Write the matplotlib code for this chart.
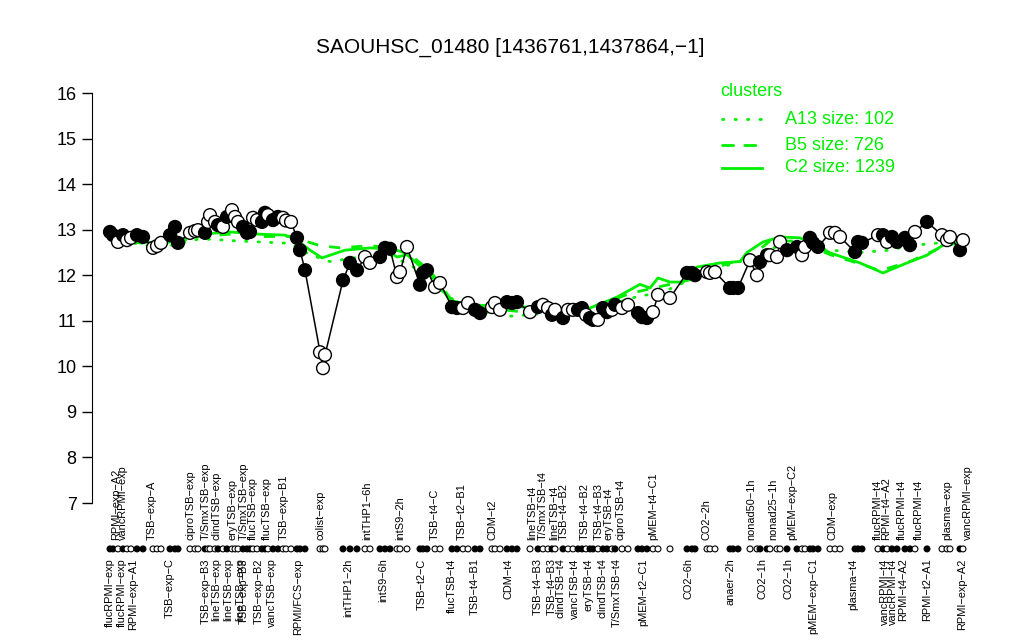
import matplotlib
matplotlib.use("Agg")
import matplotlib.pyplot as plt
from matplotlib.lines import Line2D
import matplotlib.transforms as mtransforms

plt.rcParams['font.family'] = ['Liberation Sans', 'DejaVu Sans']

title = "SAOUHSC_01480 [1436761,1437864,\u22121]"

# sample positions along the x axis, expression values and fill (1 = black, 0 = white)
xpos = [110, 113, 118, 123, 127, 131, 137, 143, 153, 157, 161, 170, 175, 178, 190, 195, 198,
        205, 208, 210, 215, 218, 223, 227, 232, 235, 238, 243, 247, 250, 253, 257, 262, 265,
        268, 273, 278, 283, 286, 291, 297, 300, 305, 320, 323, 325, 343, 350, 357, 365, 370,
        380, 385, 390, 397, 400, 407, 420, 423, 427, 435, 440, 452, 457, 463, 468, 475, 480,
        492, 495, 500, 507, 512, 517, 530, 538, 543, 548, 552, 555, 563, 568, 573, 578, 582,
        586, 590, 593, 598, 603, 607, 612, 615, 622, 628, 638, 642, 647, 653, 658, 670, 687,
        692, 695, 707, 710, 715, 730, 733, 738, 750, 757, 760, 767, 770, 777, 780, 787, 797,
        802, 805, 810, 813, 818, 830, 835, 840, 855, 858, 862, 878, 883, 887, 892, 897, 905,
        910, 915, 927, 942, 947, 950, 960, 963]
values = [12.95, 12.88, 12.73, 12.88, 12.77, 12.82, 12.88, 12.84, 12.60, 12.64, 12.71, 12.88,
          13.06, 12.71, 12.93, 12.97, 12.99, 12.93, 13.17, 13.32, 13.17, 13.10, 13.06, 13.28,
          13.43, 13.28, 13.17, 13.06, 12.93, 12.95, 13.26, 13.21, 13.17, 13.37, 13.32, 13.21,
          13.28, 13.26, 13.20, 13.17, 12.82, 12.55, 12.11, 10.31, 9.96, 10.25, 11.89, 12.27,
          12.11, 12.40, 12.27, 12.40, 12.60, 12.58, 11.96, 12.07, 12.62, 11.79, 12.05, 12.11,
          11.74, 11.83, 11.30, 11.28, 11.28, 11.39, 11.24, 11.17, 11.30, 11.39, 11.24, 11.41,
          11.39, 11.41, 11.19, 11.30, 11.35, 11.28, 11.13, 11.24, 11.06, 11.24, 11.24, 11.24,
          11.28, 11.13, 11.06, 11.02, 11.02, 11.28, 11.19, 11.24, 11.35, 11.28, 11.35, 11.17,
          11.08, 11.06, 11.19, 11.57, 11.50, 12.05, 12.05, 12.00, 12.07, 12.05, 12.07, 11.72,
          11.72, 11.72, 12.33, 12.00, 12.29, 12.44, 12.44, 12.40, 12.73, 12.55, 12.62, 12.44,
          12.62, 12.82, 12.71, 12.62, 12.93, 12.93, 12.84, 12.51, 12.73, 12.71, 12.88, 12.88,
          12.73, 12.84, 12.73, 12.82, 12.66, 12.95, 13.17, 12.88, 12.77, 12.84, 12.55, 12.77]
filled = [1, 1, 0, 1, 0, 0, 1, 1, 0, 0, 0, 1, 1, 1, 0, 0, 0, 1, 0, 0, 0, 1, 0, 1, 0, 0, 0, 1,
          1, 1, 0, 0, 1, 1, 0, 1, 1, 0, 0, 0, 1, 1, 1, 0, 0, 0, 1, 1, 1, 0, 0, 1, 1, 1, 0, 0,
          0, 1, 1, 1, 0, 0, 1, 1, 0, 0, 1, 1, 0, 0, 0, 1, 1, 1, 0, 1, 0, 0, 1, 0, 1, 0, 0, 1,
          1, 0, 1, 1, 0, 1, 1, 0, 1, 0, 0, 1, 1, 1, 0, 0, 0, 1, 1, 1, 0, 0, 0, 1, 1, 1, 0, 0,
          1, 1, 0, 0, 0, 1, 1, 0, 0, 1, 1, 1, 0, 0, 0, 1, 1, 1, 0, 1, 0, 1, 1, 1, 1, 0, 1, 0,
          0, 0, 1, 0]

# cluster profiles
a13_x = [110, 160, 200, 240, 290, 310, 330, 360, 390, 420, 450, 480, 510, 540, 580, 610, 640,
         660, 690, 710, 740, 770, 800, 830, 860, 890, 910, 935, 960]
a13_y = [12.80, 12.60, 12.80, 12.75, 12.70, 12.45, 12.30, 12.40, 12.45, 12.10, 11.50, 11.20,
         11.10, 11.15, 11.20, 11.35, 11.55, 11.60, 11.90, 12.10, 12.30, 12.60, 12.65, 12.55,
         12.50, 12.55, 12.65, 12.70, 12.75]
b5_x = [110, 160, 200, 230, 260, 290, 305, 320, 340, 370, 390, 410, 430, 450, 480, 520, 560,
        600, 630, 660, 690, 720, 750, 770, 800, 830, 860, 880, 910, 940, 963]
b5_y = [12.80, 12.65, 12.85, 12.90, 12.85, 12.85, 12.75, 12.65, 12.60, 12.65, 12.60, 12.45,
        12.10, 11.50, 11.30, 11.20, 11.25, 11.35, 11.60, 11.75, 11.90, 12.20, 12.40, 12.75,
        12.75, 12.45, 12.25, 12.10, 12.30, 12.60, 12.75]
c2_x = [110, 140, 160, 180, 200, 230, 260, 285, 295, 310, 322, 345, 370, 385, 397, 407, 420,
        435, 450, 470, 500, 530, 560, 590, 617, 640, 650, 658, 670, 683, 697, 720, 740, 747,
        763, 780, 800, 817, 830, 860, 883, 907, 927, 943, 963]
c2_y = [12.85, 12.75, 12.68, 12.78, 12.90, 12.95, 12.90, 12.88, 12.80, 12.55, 12.38, 12.55,
        12.60, 12.58, 12.40, 12.45, 12.20, 11.90, 11.45, 11.35, 11.32, 11.30, 11.25, 11.28,
        11.52, 11.80, 11.72, 11.94, 11.85, 11.85, 12.18, 12.27, 12.30, 12.50, 12.73, 12.84,
        12.82, 12.66, 12.49, 12.27, 12.05, 12.27, 12.44, 12.66, 12.73]

cluster_names = ["A13 size: 102", "B5 size: 726", "C2 size: 1239"]

top_labels = ["RPMI\u2212exp\u2212A2", "vancRPMI\u2212exp", "TSB\u2212exp\u2212A", "ciproTSB\u2212exp",
              "T/SmxTSB\u2212exp", "clindTSB\u2212exp", "eryTSB\u2212exp", "T/SmxTSB\u2212exp",
              "flucTSB\u2212exp", "flucTSB\u2212exp", "TSB\u2212exp\u2212B1", "colist\u2212exp",
              "intTHP1\u22126h", "intS9\u22122h", "TSB\u2212t4\u2212C", "TSB\u2212t2\u2212B1", "CDM\u2212t2",
              "lineTSB\u2212t4", "T/SmxTSB\u2212t4", "lineTSB\u2212t4", "TSB\u2212t4\u2212B2",
              "TSB\u2212t4\u2212B2", "TSB\u2212t4\u2212B3", "eryTSB\u2212t4", "ciproTSB\u2212t4",
              "pMEM\u2212t4\u2212C1", "CO2\u22122h", "nonad50\u22121h", "nonad25\u22121h",
              "pMEM\u2212exp\u2212C2", "CDM\u2212exp", "flucRPMI\u2212t4", "RPMI\u2212t4\u2212A2",
              "flucRPMI\u2212t4", "flucRPMI\u2212t4", "plasma\u2212exp", "vancRPMI\u2212exp"]
top_x = [116, 123, 152, 191, 206, 217, 233, 244, 253, 267, 284, 320, 367, 400, 435, 462, 492,
         532, 543, 554, 564, 585, 599, 608, 620, 653, 707, 751, 773, 792, 832, 878, 886, 902,
         919, 947, 968]
bottom_labels = ["flucRPMI\u2212exp", "flucRPMI\u2212exp", "RPMI\u2212exp\u2212A1", "TSB\u2212exp\u2212C",
                 "TSB\u2212exp\u2212B3", "lineTSB\u2212exp", "lineTSB\u2212exp", "lineTSB\u2212exp",
                 "TSB\u2212exp\u2212B3", "TSB\u2212exp\u2212B2", "vancTSB\u2212exp", "RPMI/FCS\u2212exp",
                 "intTHP1\u22122h", "intS9\u22126h", "TSB\u2212t2\u2212C", "flucTSB\u2212t4",
                 "TSB\u2212t4\u2212B1", "CDM\u2212t4", "TSB\u2212t4\u2212B3", "TSB\u2212t4\u2212B3",
                 "clindTSB\u2212t4", "vancTSB\u2212t4", "eryTSB\u2212t4", "clindTSB\u2212t4",
                 "T/SmxTSB\u2212t4", "pMEM\u2212t2\u2212C1", "CO2\u22126h", "anaer\u22122h", "CO2\u22121h",
                 "CO2\u22121h", "pMEM\u2212exp\u2212C1", "plasma\u2212t4", "vancRPMI\u2212t4",
                 "vancRPMI\u2212t4", "RPMI\u2212t4\u2212A2", "RPMI\u2212t2\u2212A1", "RPMI\u2212exp\u2212A2"]
bottom_x = [110, 122, 133, 170, 206, 216, 228, 240, 244, 259, 272, 298, 348, 383, 422, 452, 475,
            508, 538, 552, 560, 575, 589, 603, 617, 643, 689, 730, 763, 788, 813, 853, 885, 893,
            903, 927, 962]

yticks = [7, 8, 9, 10, 11, 12, 13, 14, 15, 16]

W, H = 1024, 640
fig = plt.figure(figsize=(W / 100, H / 100), dpi=100)
ax = fig.add_axes([92 / W, (H - 503) / H, (980 - 92) / W, 410 / H])
ax.set_xlim(92, 980)
ax.set_ylim(7, 16)

green = "#00ee00"
ax.plot(a13_x, a13_y, color=green, lw=2.0, linestyle=(0, (0.5, 4)), dash_capstyle='round', zorder=2)
ax.plot(b5_x, b5_y, color=green, lw=2.0, linestyle=(0, (4, 4)), zorder=2)
ax.plot(c2_x, c2_y, color=green, lw=2.0, zorder=2)

ax.plot(xpos, values, color="black", lw=1.1, zorder=3)
fc = ["black" if f else "white" for f in filled]
ax.scatter(xpos, values, s=85, c=fc, edgecolors="black", linewidths=1.0, zorder=4)

# rug of samples below the axis
trans = mtransforms.blended_transform_factory(ax.transData, ax.transAxes)
ax.scatter(xpos, [-0.112] * len(xpos), s=18, c=fc, edgecolors="black", linewidths=0.8,
           transform=trans, clip_on=False, zorder=4)

for lab, x in zip(top_labels, top_x):
    ax.text(x, -0.09, lab, rotation=90, ha="center", va="bottom", fontsize=7.9,
            transform=trans, clip_on=False)
for lab, x in zip(bottom_labels, bottom_x):
    ax.text(x, -0.135, lab, rotation=90, ha="center", va="top", fontsize=7.9,
            transform=trans, clip_on=False)

for s in ["top", "right", "bottom"]:
    ax.spines[s].set_visible(False)
ax.spines["left"].set_bounds(7, 16)
ax.set_xticks([])
ax.set_yticks(yticks)
ax.set_yticklabels([str(t) for t in yticks], fontsize=13)
ax.tick_params(axis="y", length=7, width=1, pad=4)

fig.text(510 / W, 1 - 47 / H, title, ha="center", va="center", fontsize=15)

# legend
fig.text(720 / W, 1 - 92 / H, "clusters", color=green, fontsize=13, ha="left", va="center")
styles = [(0, (0.5, 4)), (0, (4, 4)), "-"]
ys = [119, 145, 168]
for st, yy, name in zip(styles, ys, cluster_names):
    fig.add_artist(Line2D([722 / W, 762 / W], [1 - yy / H, 1 - yy / H], color=green, lw=2.0,
                          linestyle=st, dash_capstyle='round', transform=fig.transFigure))
    fig.text(785 / W, 1 - yy / H, name, color=green, fontsize=13, ha="left", va="center")

fig.savefig("out.png", dpi=100)
